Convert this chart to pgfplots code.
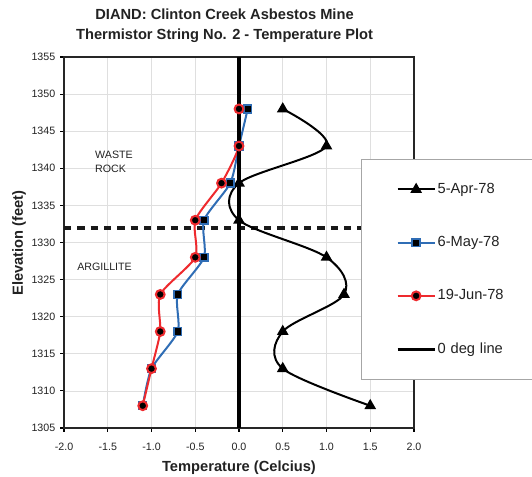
\documentclass[border=0pt]{standalone}
\usepackage{fontspec}
\setmainfont{Liberation Sans}
\usepackage{pgfplots}
\usepackage{pgfplotstable}
\pgfplotsset{compat=1.18}
\definecolor{mayblue}{HTML}{2F6DB5}
\definecolor{junred}{HTML}{EE2A2E}
\definecolor{txt}{HTML}{222222}

% temperature (C) vs elevation (ft)
\pgfplotstableread{
T E
0.5 1348
1.0 1343
0.0 1338
0.0 1333
1.0 1328
1.2 1323
0.5 1318
0.5 1313
1.5 1308
}\apr
\pgfplotstableread{
T E
0.1 1348
0.0 1343
-0.1 1338
-0.4 1333
-0.4 1328
-0.7 1323
-0.7 1318
-1.0 1313
-1.1 1308
}\may
\pgfplotstableread{
T E
0.0 1348
0.0 1343
-0.2 1338
-0.5 1333
-0.5 1328
-0.9 1323
-0.9 1318
-1.0 1313
-1.1 1308
}\jun

\begin{document}
\begin{tikzpicture}
\useasboundingbox (0,0) rectangle (399pt,357.75pt);
\begin{axis}[
  at={(48pt,36.75pt)}, anchor=south west,
  scale only axis, width=262.5pt, height=278.25pt,
  xmin=-2, xmax=2, ymin=1305, ymax=1355,
  xtick={-2,-1.5,-1,-0.5,0,0.5,1,1.5,2},
  ytick={1305,1310,1315,1320,1325,1330,1335,1340,1345,1350,1355},
  xticklabel style={yshift=-5pt, /pgf/number format/.cd, fixed, fixed zerofill, precision=1, assume math mode=true},
  yticklabel style={/pgf/number format/.cd, fixed, set thousands separator={}, assume math mode=true},
  ticklabel style={font=\fontsize{8}{9}\selectfont, text=txt},
  tick align=outside, tick pos=left, major tick length=3pt,
  tick style={black, line width=0.8pt},
  grid=major, major grid style={gray!25, line width=0.5pt},
  axis line style={black!85, line width=1.4pt},
  legend style={
    at={(0.8486,0.7250)}, anchor=north west,
    draw=gray!70, fill=white, line width=0.5pt,
    inner xsep=20pt, inner ysep=17pt, row sep=28.7pt,
    font=\fontsize{11}{13}\selectfont, text=txt,
    nodes={inner xsep=1pt, inner ysep=1pt, text width=52pt, align=left},
  },
  legend cell align=left,
  legend image code/.code={
    \path (-6pt,0pt);
    \draw[mark repeat=2, mark phase=2, #1] plot coordinates {(0pt,0pt) (13.9pt,0pt) (27.8pt,0pt)};
  },
]
\addplot[black!90, forget plot, dash pattern=on 5.5pt off 4.5pt, line width=3pt] coordinates {(-2,1332) (2,1332)};
\addplot[black, line width=1.5pt, smooth, tension=0.55, mark=triangle*, mark size=3.6pt, mark options={solid, fill=black}]
  table[x=T, y=E] {\apr};
\addlegendentry{5-Apr-78}
\addplot[mayblue, line width=1.5pt, smooth, tension=0.4, mark=square*, mark size=2.9pt, mark options={solid, draw=mayblue, fill=black, line width=1.2pt}]
  table[x=T, y=E] {\may};
\addlegendentry{6-May-78}
\addplot[junred, line width=1.5pt, smooth, tension=0.4, mark=*, mark size=3.3pt, mark options={solid, draw=junred, fill=black, line width=1.5pt}]
  table[x=T, y=E] {\jun};
\addlegendentry{19-Jun-78}
\addplot[black, line width=2.4pt] coordinates {(0,1305) (0,1355)};
\addlegendentry{0 deg line}
\node[anchor=west, inner sep=0pt, align=left, font=\fontsize{8}{10.5}\selectfont, text=txt] at (axis cs:-1.646,1340.9) {WASTE\\ROCK};
\node[anchor=west, inner sep=0pt, font=\fontsize{8}{10}\selectfont, text=txt] at (axis cs:-1.851,1326.7) {ARGILLITE};
\end{axis}
\node[anchor=base, font=\bfseries\fontsize{11}{13}\selectfont, text=txt] at (168.4pt,343.1pt) {DIAND: Clinton Creek Asbestos Mine};
\node[anchor=base, font=\bfseries\fontsize{11}{13}\selectfont, text=txt] at (168.4pt,328.1pt) {Thermistor String No. 2 - Temperature Plot};
\node[anchor=base, font=\bfseries\fontsize{11}{13}\selectfont, text=txt] at (179.25pt,4pt) {Temperature (Celcius)};
\node[anchor=base, rotate=90, font=\bfseries\fontsize{11}{13}\selectfont, text=txt] at (17.25pt,175.5pt) {Elevation (feet)};
\end{tikzpicture}
\end{document}
